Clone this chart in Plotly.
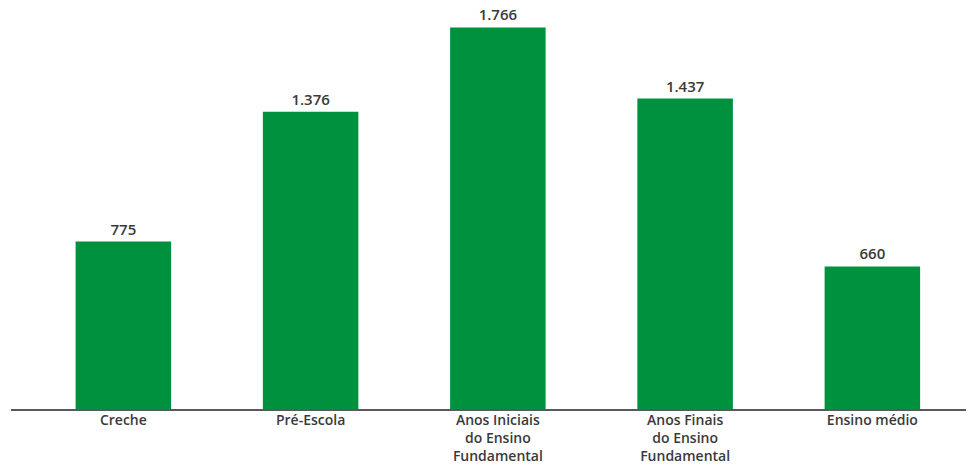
import plotly.graph_objects as go

categories = ["Creche", "Pré-Escola", "Anos Iniciais<br>do Ensino<br>Fundamental",
              "Anos Finais<br>do Ensino<br>Fundamental", "Ensino médio"]
values = [775, 1376, 1766, 1437, 660]

font_family = "'Open Sans', sans-serif"
text_color = "#3a3a3a"

fig = go.Figure(go.Bar(
    x=categories, y=values,
    marker=dict(color="#00913F", line=dict(width=0)),
    texttemplate="%{y:,}", textposition="outside", cliponaxis=False,
    textfont=dict(family=font_family, size=15, color=text_color, weight=600),
))

fig.update_layout(
    width=971, height=465,
    margin=dict(l=11, r=5, t=0, b=56),
    paper_bgcolor="white", plot_bgcolor="white",
    separators=",.",
    bargap=0.49,
    showlegend=False,
    font=dict(family=font_family, size=14, color=text_color),
)
fig.update_xaxes(range=[-0.6, 4.5], showline=True, linecolor="#595959", linewidth=1.5,
                 ticks="", tickfont=dict(family=font_family, size=14, color=text_color, weight=600),
                 ticklabelstandoff=-3,
                 showgrid=False, zeroline=False, automargin=False)
fig.update_yaxes(range=[0, 1893], visible=False, showgrid=False, zeroline=False)

fig.write_html("out.html", config={"displayModeBar": False},
               post_script="document.body.style.margin='0';document.body.style.overflow='hidden';")
